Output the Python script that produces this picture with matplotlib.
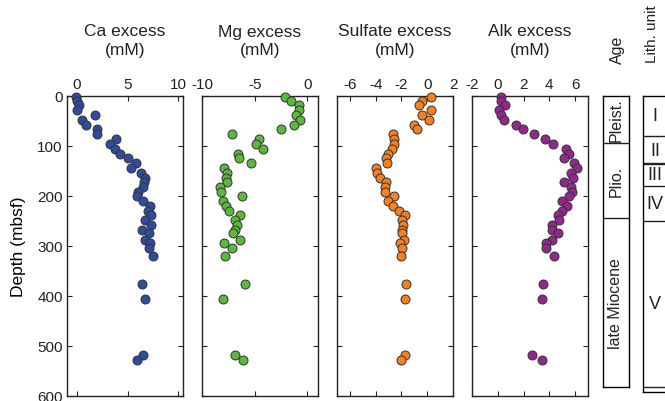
import matplotlib.pyplot as plt
import numpy as np

# ==========================================================
# DATA
# ==========================================================

depth = [2, 10, 19, 29, 38, 48, 58, 67, 77, 87, 96, 106, 116, 125,
         135, 144, 154, 164, 172, 182, 192, 201, 211, 220, 230, 239,
         249, 258, 268, 274, 288, 295, 304, 321, 377, 407, 518, 529]

ca_excess = [-0.1, 0.03, 0.2, 0.03, 1.75, 0.5, 0.93, 2.0, 2.0, 3.84,
             3.24, 3.8, 4.3, 5.0, 5.8, 5.3, 6.3, 6.7, 6.6, 6.5, 6.05,
             5.95, 6.55, 7.2, 7.0, 7.3, 6.7, 7.3, 6.4, 7.1, 6.7, 7.2,
             7.1, 7.5, 6.4, 6.7, 6.5, 5.9]

mg_excess = [-2.14, -1.54, -0.82, -0.79, -1.1, -0.69, -1.26, -2.5,
             -7.2, -4.6, -4.9, -4.2, -6.6, -6.45, -5.4, -7.9, -7.6,
             -7.7, -7.6, -8.3, -8.2, -6.2, -8.0, -7.7, -7.4, -6.4,
             -6.9, -6.7, -6.9, -7.1, -6.4, -7.9, -7.2, -7.8, -5.9,
             -8.0, -6.9, -6.1]

sulfate_excess = [0.28, -0.39, -0.6, 0.28, -0.42, 0.12, -0.99, -0.83,
                  -2.67, -2.6, -2.59, -2.72, -3.05, -3.2, -3.13, -3.98,
                  -3.9, -3.7, -3.16, -3.26, -3.31, -2.59, -3.05, -2.64,
                  -2.2, -1.74, -1.92, -1.87, -1.97, -1.92, -1.84, -2.12,
                  -1.94, -2.02, -1.66, -1.76, -1.69, -2.03]

alk_excess = [0.26, 0.26, 0.57, 0.1, 0.26, 0.46, 1.44, 1.96, 2.78,
              3.69, 4.25, 5.33, 5.49, 5.15, 5.93, 6.13, 5.67, 5.8, 5.1,
              5.67, 5.75, 5.49, 5.0, 5.36, 4.95, 4.69, 4.74, 4.23, 4.2,
              4.64, 4.2, 3.76, 3.71, 4.38, 3.5, 3.43, 2.63, 3.43]

panel_titles = ["Ca excess\n(mM)", "Mg excess\n(mM)",
                "Sulfate excess\n(mM)", "Alk excess\n(mM)"]

age_names = ["Pleist.", "Plio.", "late Miocene"]
age_bounds = [0, 94, 244, 583]

lith_names = ["I", "II", "III", "IV", "V"]
lith_bounds = [0, 81, 137, 181, 251, 583]

# ==========================================================
# STYLE
# ==========================================================

plt.rcParams["font.family"] = ["Liberation Sans", "DejaVu Sans"]
plt.rcParams["text.color"] = "#222222"

W, H = 665, 402

fig = plt.figure(figsize=(W / 100, H / 100), dpi=100)


def px_axes(left, top, right, bottom):
    # axes placed in pixel coordinates measured from top-left
    return fig.add_axes([left / W, 1 - bottom / H,
                         (right - left) / W, (bottom - top) / H])


# ==========================================================
# PROFILE PANELS
# ==========================================================

series = [ca_excess, mg_excess, sulfate_excess, alk_excess]
colors = ["#2F4C9C", "#5CB83C", "#F4801F", "#94278E"]
xlims = [(-1, 10.5), (-10, 1), (-7, 2), (-2, 7)]
xticks = [[0, 5, 10], [-10, -5, 0], [-6, -4, -2, 0, 2],
          [-2, 0, 2, 4, 6]]
lefts = [67, 202, 337, 472]

for i in range(4):

    ax = px_axes(lefts[i], 96.5, lefts[i] + 116, 396.5)

    ax.scatter(series[i], depth, s=42, color=colors[i],
               edgecolor="#333333", linewidth=0.7, zorder=3,
               clip_on=False)

    ax.set_xlim(*xlims[i])
    ax.set_ylim(600, 0)
    ax.set_xticks(xticks[i])
    ax.set_xticklabels([str(t) for t in xticks[i]])
    ax.set_yticks(range(0, 601, 100))

    ax.tick_params(direction="in", length=3.5, width=0.8,
                   top=True, bottom=True, left=True, right=True,
                   labeltop=True, labelbottom=False,
                   labelsize=11, pad=3, colors="#222222")

    if i > 0:
        ax.tick_params(labelleft=False)
    else:
        ax.set_ylabel("Depth (mbsf)", fontsize=12.5, labelpad=8)

    for sp in ax.spines.values():
        sp.set_linewidth(1.0)
        sp.set_color("#222222")

    fig.text((lefts[i] + 58) / W, 1 - 41 / H, panel_titles[i],
             ha="center", va="center", fontsize=12.5,
             linespacing=1.25)

# ==========================================================
# AGE COLUMN
# ==========================================================

ax_age = px_axes(603, 96.5, 629, 388)
ax_age.set_xlim(0, 1)
ax_age.set_ylim(age_bounds[-1], 0)
ax_age.set_xticks([])
ax_age.set_yticks([])

for b in age_bounds[1:-1]:
    ax_age.axhline(b, color="#222222", linewidth=1.0)

for k, name in enumerate(age_names):
    mid = 0.5 * (age_bounds[k] + age_bounds[k + 1])
    ax_age.text(0.5, mid, name, rotation=90, ha="center",
                va="center", fontsize=11.5)

for sp in ax_age.spines.values():
    sp.set_linewidth(1.0)

fig.text(617 / W, 1 - 50 / H, "Age", rotation=90,
         ha="center", va="center", fontsize=11.5)

# ==========================================================
# LITHOLOGIC UNIT COLUMN
# ==========================================================

ax_lith = px_axes(643, 96.5, 690, 393)
ax_lith.set_xlim(0, 1)
ax_lith.set_ylim(593, 0)
ax_lith.set_xticks([])
ax_lith.set_yticks([])

for b in lith_bounds[1:]:
    ax_lith.axhline(b, color="#222222", linewidth=1.0)
ax_lith.axhline(134, color="#222222", linewidth=1.0)

for k, name in enumerate(lith_names):
    mid = 0.5 * (lith_bounds[k] + lith_bounds[k + 1])
    ax_lith.text(12 / 47, mid, name, ha="center", va="center",
                 fontsize=13)

for sp in ax_lith.spines.values():
    sp.set_linewidth(1.0)

fig.text(652 / W, 1 - 34 / H, "Lith. unit", rotation=90,
         ha="center", va="center", fontsize=11)

fig.savefig("out.png", dpi=100)
